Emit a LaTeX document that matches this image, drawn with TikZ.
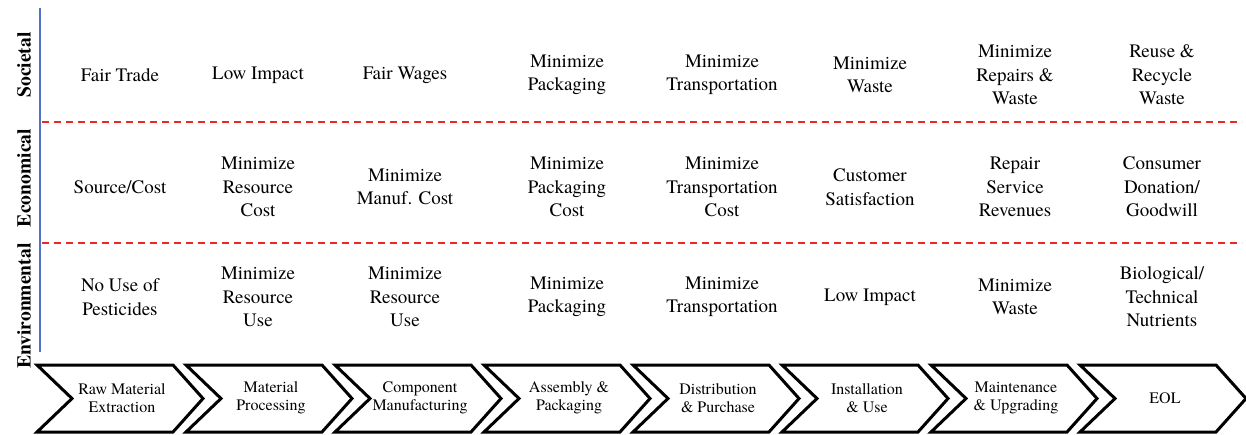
\documentclass[tikz,border=0pt]{standalone}
\usepackage{fontspec}
\setmainfont{TeX Gyre Termes}
\definecolor{sepred}{RGB}{235,40,40}
\definecolor{axisblue}{RGB}{80,115,200}
\begin{document}
\begin{tikzpicture}
  [x=0.5pt,y=-0.5pt,
   cell/.style={align=center,font=\fontsize{9.5}{11.75}\selectfont},
   stage/.style={align=center,font=\fontsize{8}{9.2}\selectfont},
   side/.style={rotate=90,font=\bfseries\fontsize{9.8}{11}\selectfont},
   sep/.style={sepred,line width=0.6pt,dash pattern=on 3.5pt off 2.5pt},
   chevron/.style={line width=1.5pt,line join=miter}]
  \useasboundingbox (0,0) rectangle (1246,434);

  % dimension labels and axis
  \node[side] (societal) at (24,65) {Societal};
  \node[side] (economical) at (24,178) {Economical};
  \node[side] (environmental) at (24,306) {Environmental};
  \coordinate (axtop) at (40,8);
  \coordinate (axbot) at (40,352);
  \draw [axisblue,line width=0.6pt] (axtop) -- (axbot);

  % row separators
  \coordinate (sepa1) at (42,122);
  \coordinate (sepa2) at (1242,122);
  \coordinate (sepb1) at (42,243);
  \coordinate (sepb2) at (1242,243);
  \draw [sep] (sepa1) -- (sepa2);
  \draw [sep] (sepb1) -- (sepb2);

  % goals per stage
  \foreach \x/\soc/\eco/\env [count=\i] in {
      120/{Fair Trade}/{Source/Cost}/{No Use of\\Pesticides},
      258/{Low Impact}/{Minimize\\Resource\\Cost}/{Minimize\\Resource\\Use},
      405/{Fair Wages}/{Minimize\\Manuf. Cost}/{Minimize\\Resource\\Use},
      567/{Minimize\\Packaging}/{Minimize\\Packaging\\Cost}/{Minimize\\Packaging},
      722/{Minimize\\Transportation}/{Minimize\\Transportation\\Cost}/{Minimize\\Transportation},
      870/{Minimize\\Waste}/{Customer\\Satisfaction}/{Low Impact},
      1015/{Minimize\\Repairs \&\\Waste}/{Repair\\Service\\Revenues}/{Minimize\\Waste},
      1162/{Reuse \&\\Recycle\\Waste}/{Consumer\\Donation/\\Goodwill}/{Biological/\\Technical\\Nutrients}}
  {
    \node[cell] (soc\i) at (\x,75) {\soc};
    \node[cell] (eco\i) at (\x,187) {\eco};
    \node[cell] (env\i) at (\x,297) {\env};
  }

  % life cycle stages
  \foreach \lbl [count=\i from 0] in {
      {Raw Material\\Extraction}, {Material\\Processing}, {Component\\Manufacturing},
      {Assembly \&\\Packaging}, {Distribution\\\& Purchase}, {Installation\\\& Use},
      {Maintenance\\\& Upgrading}, EOL}
  {
    \pgfmathsetmacro{\xo}{37+149*\i}
    \draw [chevron] (\xo,365) -- ++(136,0) -- ++(30,33.5) -- ++(-30,33.5)
      -- ++(-136,0) -- ++(35,-33.5) -- cycle;
    \node[stage] (stage\i) at (\xo+85,398) {\lbl};
  }

\end{tikzpicture}
\end{document}
